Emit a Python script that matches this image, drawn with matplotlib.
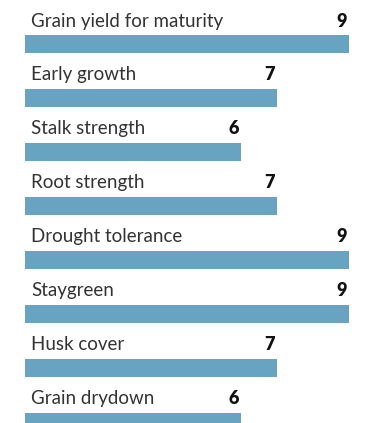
import matplotlib
matplotlib.use("Agg")
import matplotlib.pyplot as plt

plt.rcParams['font.family'] = ['Lato', 'DejaVu Sans']

traits = ["Grain yield for maturity", "Early growth", "Stalk strength",
          "Root strength", "Drought tolerance", "Staygreen",
          "Husk cover", "Grain drydown"]
scores = [9, 7, 6, 7, 9, 9, 7, 6]

bar_color = "#68a3c1"
text_color = "#333333"

fig = plt.figure(figsize=(3.76, 4.23), dpi=100)
ax = fig.add_axes([25 / 376, 0, 324 / 376, 1])

rows = range(len(traits))
ax.barh(rows, scores, height=0.34, color=bar_color)

# 54 px per row, bar centres start 44 px from the top
ax.set_xlim(0, 9)
ax.set_ylim(7.02, -0.815)
ax.axis("off")

px = 72 / 100  # one pixel in points
for i, (name, val) in enumerate(zip(traits, scores)):
    ax.annotate(name, (0, i), xytext=(6 * px, 23 * px), textcoords="offset points",
                ha="left", va="center", fontsize=13.5, color=text_color)
    ax.annotate(str(val), (val, i), xytext=(-2 * px, 23 * px), textcoords="offset points",
                ha="right", va="center", fontsize=13, fontweight="heavy", color="#111111")

fig.savefig("out.png", dpi=100)
